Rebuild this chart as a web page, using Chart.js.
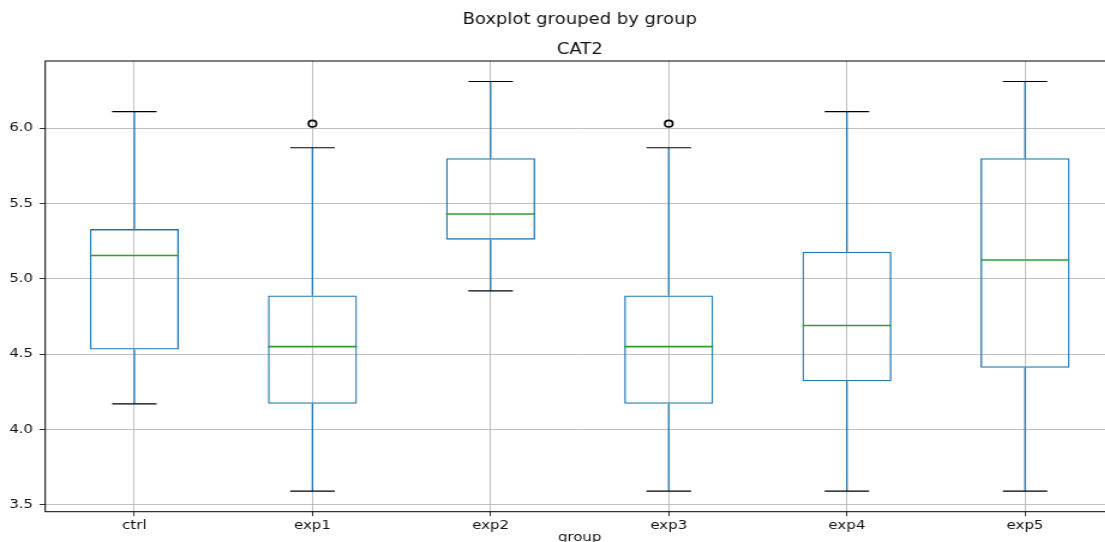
<!DOCTYPE html>
<html>
<head>
<meta charset="utf-8">
<script src="https://cdn.jsdelivr.net/npm/chart.js@4.4.0/dist/chart.umd.min.js"></script>
<style>
  html, body { margin: 0; padding: 0; background: #fff; overflow: hidden; }
  #frame { width: 1105px; height: 542px; overflow: hidden; position: relative; background: #fff; }
  /* the figure is laid out narrow and stretched horizontally */
  #stage { position: absolute; left: 0; top: 0; width: 934px; height: 550px;
           transform: scaleX(1.2); transform-origin: 0 0; }
</style>
</head>
<body>
<div id="frame"><div id="stage"><canvas id="c" width="934" height="550"></canvas></div></div>
<script>
// Five-number summaries per group
const groups      = ['ctrl', 'exp1', 'exp2', 'exp3', 'exp4', 'exp5'];
const whiskerLow  = [4.17, 3.59, 4.92, 3.59, 3.59, 3.59];
const q1          = [4.53, 4.17, 5.26, 4.17, 4.32, 4.41];
const median      = [5.155, 4.55, 5.43, 4.55, 4.69, 5.125];
const q3          = [5.33, 4.89, 5.80, 4.89, 5.18, 5.80];
const whiskerHigh = [6.11, 5.87, 6.31, 5.87, 6.11, 6.31];
const fliers      = [null, 6.03, null, 6.03, null, null];
const yTicks      = [3.5, 4.0, 4.5, 5.0, 5.5, 6.0];

const BLUE = '#1f77b4', GREEN = '#2ca02c', INK = '#111';

// y-limits: data range plus 5% margin on both sides
const allVals = whiskerLow.concat(whiskerHigh, fliers.filter(v => v !== null));
const lo = Math.min(...allVals), hi = Math.max(...allVals);
const yMin = lo - 0.05 * (hi - lo), yMax = hi + 0.05 * (hi - lo);

Chart.defaults.font.family = "'DejaVu Sans', sans-serif";
Chart.defaults.color = INK;

// whiskers, caps, medians and the axes frame
const boxExtras = {
  id: 'boxExtras',
  afterDatasetsDraw(chart) {
    const { ctx, scales: { x, y } } = chart;
    const step = Math.abs(x.getPixelForValue(1) - x.getPixelForValue(0));
    ctx.save();
    groups.forEach((g, i) => {
      const cx = x.getPixelForValue(i);
      // whiskers
      ctx.strokeStyle = BLUE; ctx.lineWidth = 1.3;
      ctx.beginPath();
      ctx.moveTo(cx, y.getPixelForValue(q3[i])); ctx.lineTo(cx, y.getPixelForValue(whiskerHigh[i]));
      ctx.moveTo(cx, y.getPixelForValue(q1[i])); ctx.lineTo(cx, y.getPixelForValue(whiskerLow[i]));
      ctx.stroke();
      // caps
      ctx.strokeStyle = '#000'; ctx.lineWidth = 1.2;
      ctx.beginPath();
      [whiskerHigh[i], whiskerLow[i]].forEach(v => {
        const py = y.getPixelForValue(v);
        ctx.moveTo(cx - step * 0.125, py); ctx.lineTo(cx + step * 0.125, py);
      });
      ctx.stroke();
      // median
      ctx.strokeStyle = GREEN; ctx.lineWidth = 1.6;
      ctx.beginPath();
      const my = y.getPixelForValue(median[i]);
      ctx.moveTo(cx - step * 0.25, my); ctx.lineTo(cx + step * 0.25, my);
      ctx.stroke();
    });
    ctx.restore();
  },
  afterDraw(chart) {
    const { ctx, chartArea: a } = chart;
    ctx.save();
    ctx.strokeStyle = '#000'; ctx.lineWidth = 1;
    ctx.strokeRect(a.left, a.top, a.right - a.left, a.bottom - a.top);
    ctx.restore();
  }
};

new Chart(document.getElementById('c'), {
  data: {
    labels: groups,
    datasets: [
      {
        type: 'bar',
        data: groups.map((g, i) => [q1[i], q3[i]]),
        backgroundColor: 'rgba(0,0,0,0)',
        borderColor: BLUE,
        borderWidth: 1.3,
        borderSkipped: false,
        barPercentage: 0.5,
        categoryPercentage: 1
      },
      {
        type: 'line',
        data: fliers,
        showLine: false,
        pointStyle: 'circle',
        pointRadius: 3.3,
        pointBorderWidth: 1.6,
        pointBorderColor: '#000',
        pointBackgroundColor: 'rgba(0,0,0,0)'
      }
    ]
  },
  options: {
    responsive: false,
    animation: false,
    layout: { padding: { left: 0, right: 3.8, top: 0, bottom: 0 } },
    plugins: {
      legend: { display: false },
      tooltip: { enabled: false },
      title: {
        display: true, text: 'Boxplot grouped by group', fullSize: false,
        font: { size: 15, weight: 'normal' }, color: INK,
        padding: { top: 11, bottom: 11.8 }
      },
      subtitle: {
        display: true, text: 'CAT2', fullSize: false,
        font: { size: 15, weight: 'normal' }, color: INK,
        padding: { top: 0, bottom: 2.2 }
      }
    },
    scales: {
      x: {
        type: 'category',
        offset: true,
        grid: { offset: false, color: '#b0b0b0', lineWidth: 0.8, tickColor: '#000', tickLength: 4.5 },
        border: { display: false },
        ticks: { font: { size: 12.5 }, color: INK, padding: 2 },
        title: { display: true, text: 'group', font: { size: 12.5 }, color: INK, padding: { top: 0, bottom: 5 } },
        afterFit(scale) { scale.height = 38.3; }
      },
      y: {
        type: 'linear',
        min: yMin, max: yMax,
        grid: { color: '#b0b0b0', lineWidth: 0.8, tickColor: '#000', tickLength: 4.75 },
        border: { display: false },
        afterBuildTicks(scale) { scale.ticks = yTicks.map(v => ({ value: v })); },
        ticks: { font: { size: 12.5 }, color: INK, padding: 5.4, callback: v => Number(v).toFixed(1) },
        afterFit(scale) { scale.width = 37.7; }
      }
    }
  },
  plugins: [boxExtras]
});
</script>
</body>
</html>
